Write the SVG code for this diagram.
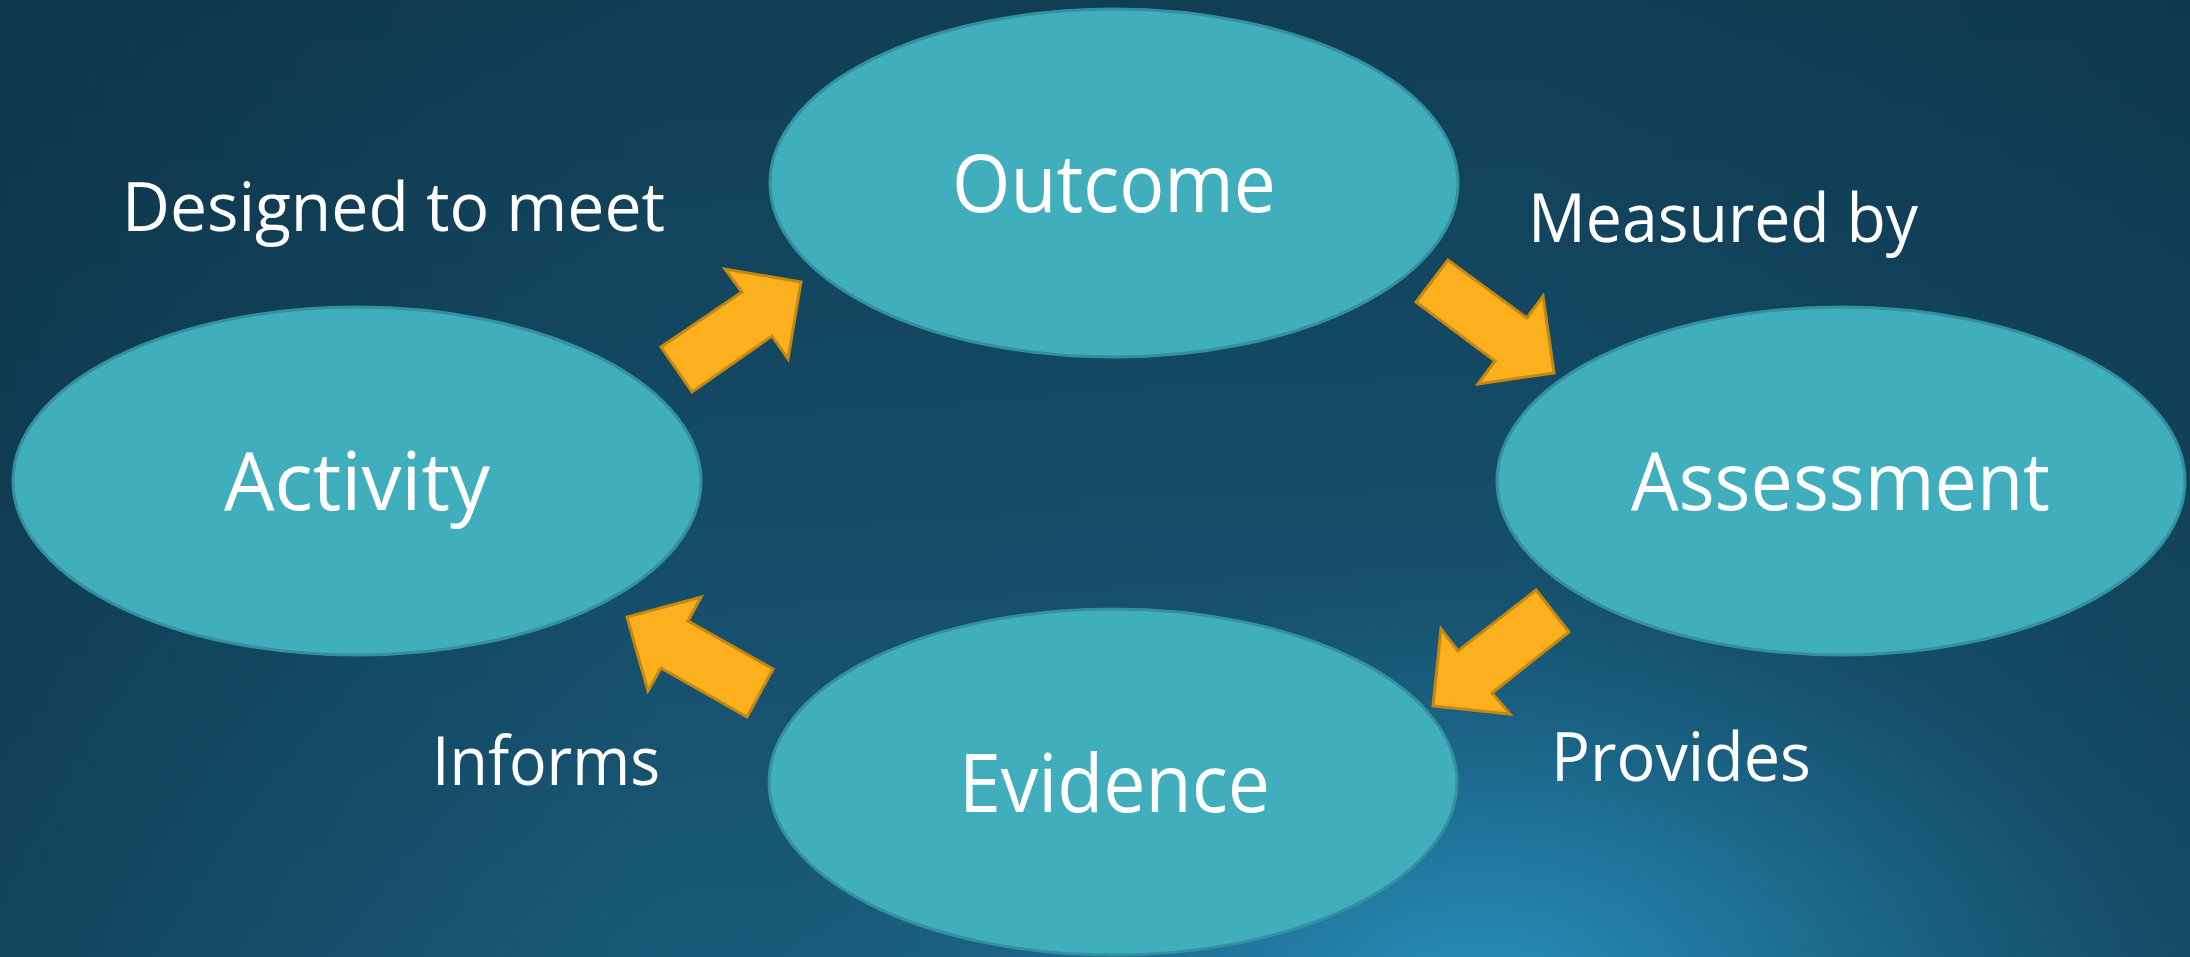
<svg xmlns="http://www.w3.org/2000/svg" width="2190" height="957" viewBox="0 0 2190 957">
<defs>
<linearGradient id="bgV" x1="0" y1="0" x2="0" y2="1">
<stop offset="0" stop-color="#113f56"/>
<stop offset="0.5" stop-color="#154e6a"/>
<stop offset="1" stop-color="#1b5f80"/>
</linearGradient>
<linearGradient id="bgH" x1="0" y1="0" x2="1" y2="0">
<stop offset="0" stop-color="#0b2e40" stop-opacity="0.55"/>
<stop offset="0.3" stop-color="#0b2e40" stop-opacity="0.1"/>
<stop offset="0.7" stop-color="#0b2e40" stop-opacity="0.05"/>
<stop offset="1" stop-color="#0b2e40" stop-opacity="0.4"/>
</linearGradient>
<radialGradient id="glow" cx="1480" cy="990" r="700" gradientTransform="translate(1480 990) scale(1 0.6) translate(-1480 -990)" gradientUnits="userSpaceOnUse">
<stop offset="0" stop-color="#2890bb"/>
<stop offset="0.4" stop-color="#227ea7" stop-opacity="0.7"/>
<stop offset="1" stop-color="#1b6488" stop-opacity="0"/>
</radialGradient>
<style>
.node{fill:#41aebd;stroke:#33919f;stroke-width:3}
.lbl{font-family:"Open Sans","Noto Sans","DejaVu Sans",sans-serif;fill:#ffffff}
.big{font-size:80px}
.sm{font-size:67px}
.arrow{fill:#fdb01e;stroke:#c48812;stroke-width:3;stroke-linejoin:miter}
</style>
</defs>
<rect x="0" y="0" width="2190" height="957" fill="url(#bgV)"/>
<rect x="0" y="0" width="2190" height="957" fill="url(#bgH)"/>
<rect x="0" y="0" width="2190" height="957" fill="url(#glow)"/>

<g id="connectors">
<polygon class="arrow" points="661,347 692,392 772,336 788,359 801,282 725,269 742,292"/>
<polygon class="arrow" points="1448,260 1416,302 1495,361 1478,384 1554,373 1543,296 1527,318"/>
<polygon class="arrow" points="1536,590 1569,632 1492,693 1510,714 1433,706 1441,629 1458,651"/>
<polygon class="arrow" points="747,717 773,669 688,621 701,597 627,617 648,691 661,668"/>
</g>

<g id="node-outcome">
<ellipse class="node" cx="1114" cy="183" rx="344" ry="174"/>
<text class="lbl big" x="952" y="212" textLength="324" lengthAdjust="spacingAndGlyphs">Outcome</text>
</g>
<g id="node-activity">
<ellipse class="node" cx="357" cy="481" rx="344" ry="174"/>
<text class="lbl big" x="224" y="510" textLength="266" lengthAdjust="spacingAndGlyphs">Activity</text>
</g>
<g id="node-assessment">
<ellipse class="node" cx="1841" cy="481" rx="344" ry="174"/>
<text class="lbl big" x="1631" y="510" textLength="419" lengthAdjust="spacingAndGlyphs">Assessment</text>
</g>
<g id="node-evidence">
<ellipse class="node" cx="1113" cy="782" rx="344" ry="173"/>
<text class="lbl big" x="959" y="812" textLength="311" lengthAdjust="spacingAndGlyphs">Evidence</text>
</g>

<g id="edge-labels">
<text class="lbl sm" x="122" y="231" textLength="543" lengthAdjust="spacingAndGlyphs">Designed to meet</text>
<text class="lbl sm" x="1528" y="242" textLength="390" lengthAdjust="spacingAndGlyphs">Measured by</text>
<text class="lbl sm" x="1551" y="781" textLength="260" lengthAdjust="spacingAndGlyphs">Provides</text>
<text class="lbl sm" x="432" y="785" textLength="228" lengthAdjust="spacingAndGlyphs">Informs</text>
</g>
</svg>
